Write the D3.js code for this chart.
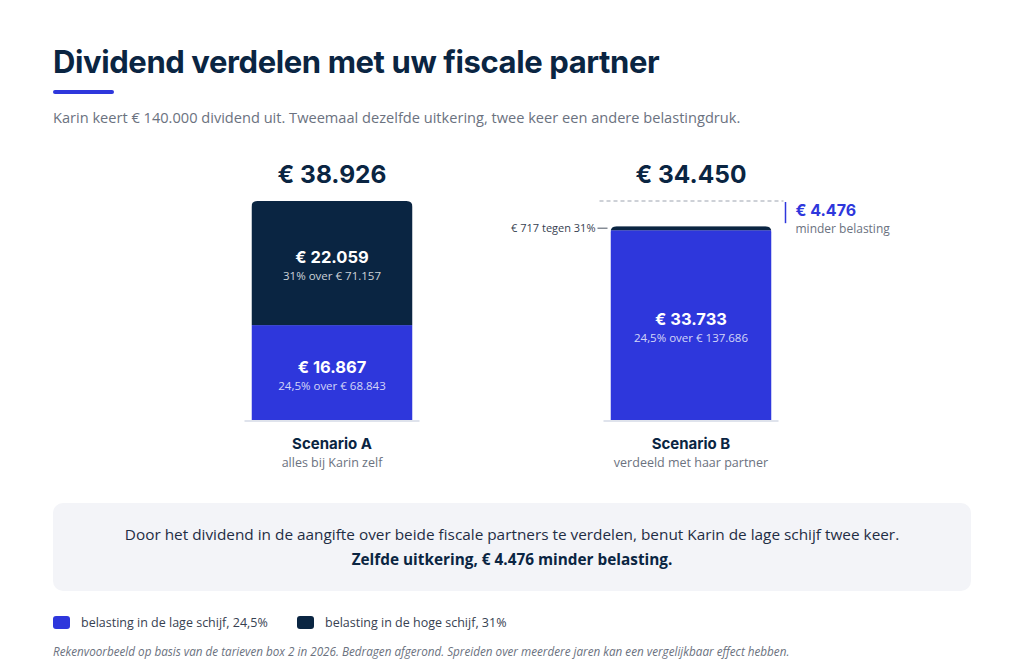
<!DOCTYPE html>
<html>
<head>
<meta charset="utf-8">
<script src="https://cdn.jsdelivr.net/npm/d3@7"></script>
<style>
  body { margin: 0; background: #fff; }
  svg { display: block; }
  .head { font-family: Inter, "DejaVu Sans", sans-serif; }
  .body { font-family: "Open Sans", "Noto Sans", sans-serif; }
</style>
</head>
<body>
<div id="chart"></div>
<script>
const scenarios = ["Scenario A", "Scenario B"]
const scenarioNotes = ["alles bij Karin zelf", "verdeeld met haar partner"]
const lowTax = [16867, 33733]
const highTax = [22059, 717]
const lowBase = [68843, 137686]
const highBase = [71157, 2313]
const rates = [0.245, 0.31]
const legendLabels = ["belasting in de lage schijf", "belasting in de hoge schijf"]

const blue = "#2e37dc"
const navy = "#0a2542"
const width = 1024, height = 671

const nl = d3.formatLocale({ decimal: ",", thousands: ".", grouping: [3], currency: ["€ ", ""] })
const eur = d => "€ " + nl.format(",")(d)
const pct = nl.format(".1~%")

const totals = scenarios.map((s, i) => lowTax[i] + highTax[i])
const saving = totals[0] - totals[1]

const svg = d3.select("#chart").append("svg")
  .attr("width", width)
  .attr("height", height)

// title block
svg.append("text").attr("class", "head")
  .attr("x", 53).attr("y", 73)
  .attr("font-size", 31).attr("font-weight", 700)
  .attr("letter-spacing", -0.4)
  .attr("fill", navy)
  .text("Dividend verdelen met uw fiscale partner")

svg.append("rect")
  .attr("x", 53).attr("y", 90).attr("width", 61).attr("height", 4)
  .attr("rx", 2).attr("fill", blue)

svg.append("text").attr("class", "body")
  .attr("x", 53).attr("y", 123)
  .attr("font-size", 14.6).attr("fill", "#6b7280")
  .text("Karin keert € 140.000 dividend uit. Tweemaal dezelfde uitkering, twee keer een andere belastingdruk.")

// scales
const x = d3.scalePoint().domain(scenarios).range([332, 691])
const y = d3.scaleLinear().domain([0, d3.max(totals)]).range([420, 201])
const barW = 161

const rows = scenarios.map((s, i) => ({
  name: s, note: scenarioNotes[i], low: lowTax[i], high: highTax[i],
  lowBase: lowBase[i], highBase: highBase[i], total: totals[i]
}))

function topRounded(x0, y0, w, h, r) {
  return `M${x0},${y0 + h}V${y0 + r}Q${x0},${y0} ${x0 + r},${y0}H${x0 + w - r}Q${x0 + w},${y0} ${x0 + w},${y0 + r}V${y0 + h}Z`
}

const defs = svg.append("defs")
rows.forEach((d, i) => {
  defs.append("clipPath").attr("id", "clip" + i)
    .append("path")
    .attr("d", topRounded(x(d.name) - barW / 2, y(d.total), barW, y(0) - y(d.total), 6))
})

const bars = svg.selectAll(".bar")
  .data(rows)
  .enter()
  .append("g")
  .attr("class", "bar")

// baseline
bars.append("line")
  .attr("x1", d => x(d.name) - barW / 2 - 7)
  .attr("x2", d => x(d.name) + barW / 2 + 7)
  .attr("y1", y(0) + 1).attr("y2", y(0) + 1)
  .attr("stroke", "#dfe3ec").attr("stroke-width", 2)

const segs = bars.append("g").attr("clip-path", (d, i) => `url(#clip${i})`)

segs.append("rect")
  .attr("x", d => x(d.name) - barW / 2)
  .attr("width", barW)
  .attr("y", d => y(d.low))
  .attr("height", d => y(0) - y(d.low))
  .attr("fill", blue)

segs.append("rect")
  .attr("x", d => x(d.name) - barW / 2)
  .attr("width", barW)
  .attr("y", d => y(d.total))
  .attr("height", d => y(d.low) - y(d.total))
  .attr("fill", navy)

// totals above bars
bars.append("text").attr("class", "head")
  .attr("x", d => x(d.name)).attr("y", y(d3.max(totals)) - 18)
  .attr("text-anchor", "middle")
  .attr("font-size", 24.5).attr("font-weight", 700)
  .attr("fill", navy)
  .text(d => eur(d.total))

// segment labels
function segLabel(sel, valueKey, baseKey, rate, lo, hi) {
  const g = sel.append("g")
    .attr("transform", d => `translate(${x(d.name)},${(y(lo(d)) + y(hi(d))) / 2})`)
  g.append("text").attr("class", "head")
    .attr("text-anchor", "middle").attr("y", 0)
    .attr("font-size", 16.5).attr("font-weight", 700).attr("fill", "#fff")
    .text(d => eur(d[valueKey]))
  g.append("text").attr("class", "body")
    .attr("text-anchor", "middle").attr("y", 17)
    .attr("font-size", 11.5).attr("fill", "#fff").attr("fill-opacity", 0.8)
    .text(d => pct(rate) + " over " + eur(d[baseKey]))
}

segLabel(bars, "low", "lowBase", rates[0], d => 0, d => d.low)
segLabel(bars.filter(d => d.high > 5000), "high", "highBase", rates[1], d => d.low, d => d.total)

// small high-tax slice in scenario B
const small = bars.filter(d => d.high <= 5000)
small.append("line")
  .attr("x1", d => x(d.name) - barW / 2 - 13)
  .attr("x2", d => x(d.name) - barW / 2 - 3)
  .attr("y1", d => y(d.total) + 2).attr("y2", d => y(d.total) + 2)
  .attr("stroke", "#4b5563").attr("stroke-width", 1)
small.append("text").attr("class", "body")
  .attr("x", d => x(d.name) - barW / 2 - 15)
  .attr("y", d => y(d.total) + 6)
  .attr("text-anchor", "end")
  .attr("font-size", 11).attr("fill", "#374151")
  .text(d => eur(d.high) + " tegen " + pct(rates[1]))

// scenario labels
bars.append("text").attr("class", "head")
  .attr("x", d => x(d.name)).attr("y", 449)
  .attr("text-anchor", "middle")
  .attr("font-size", 15).attr("font-weight", 700).attr("fill", navy)
  .text(d => d.name)
bars.append("text").attr("class", "body")
  .attr("x", d => x(d.name)).attr("y", 467)
  .attr("text-anchor", "middle")
  .attr("font-size", 12.5).attr("fill", "#6b7280")
  .text(d => d.note)

// difference annotation
const bx = x(scenarios[1])
svg.append("line")
  .attr("x1", bx - barW / 2 - 11).attr("x2", bx + barW / 2 + 12)
  .attr("y1", y(totals[0])).attr("y2", y(totals[0]))
  .attr("stroke", "#9ca3af").attr("stroke-width", 1)
  .attr("stroke-dasharray", "4,3")
svg.append("line")
  .attr("x1", bx + barW / 2 + 14).attr("x2", bx + barW / 2 + 14)
  .attr("y1", y(totals[0]) + 1).attr("y2", y(totals[1]) - 3)
  .attr("stroke", blue).attr("stroke-width", 1.5)
svg.append("text").attr("class", "head")
  .attr("x", bx + barW / 2 + 24).attr("y", y(totals[0]) + 15)
  .attr("font-size", 16).attr("font-weight", 700).attr("fill", blue)
  .text(eur(saving))
svg.append("text").attr("class", "body")
  .attr("x", bx + barW / 2 + 24).attr("y", y(totals[0]) + 32)
  .attr("font-size", 12).attr("fill", "#6b7280")
  .text("minder belasting")

// conclusion box
svg.append("rect")
  .attr("x", 53).attr("y", 503).attr("width", 918).attr("height", 88)
  .attr("rx", 10).attr("fill", "#f3f4f8")
svg.append("text").attr("class", "body")
  .attr("x", 512).attr("y", 540).attr("text-anchor", "middle")
  .attr("font-size", 15.35).attr("fill", "#1f2d44")
  .text("Door het dividend in de aangifte over beide fiscale partners te verdelen, benut Karin de lage schijf twee keer.")
svg.append("text").attr("class", "body")
  .attr("x", 512).attr("y", 565).attr("text-anchor", "middle")
  .attr("font-size", 15.35).attr("font-weight", 700).attr("fill", navy)
  .text("Zelfde uitkering, " + eur(saving) + " minder belasting.")

// legend
const legend = svg.selectAll(".legend")
  .data(legendLabels)
  .enter()
  .append("g")
  .attr("class", "legend")
  .attr("transform", (d, i) => `translate(${i === 0 ? 53 : 297},616)`)
legend.append("rect")
  .attr("width", 17).attr("height", 13).attr("rx", 3)
  .attr("fill", (d, i) => i === 0 ? blue : navy)
legend.append("text").attr("class", "body")
  .attr("x", 28).attr("y", 11)
  .attr("font-size", 12.5).attr("fill", "#374151")
  .text((d, i) => d + ", " + pct(rates[i]))

svg.append("text").attr("class", "body")
  .attr("x", 53).attr("y", 656)
  .attr("font-size", 11.7).attr("font-style", "italic").attr("fill", "#6b7280")
  .text("Rekenvoorbeeld op basis van de tarieven box 2 in 2026. Bedragen afgerond. Spreiden over meerdere jaren kan een vergelijkbaar effect hebben.")
</script>
</body>
</html>
